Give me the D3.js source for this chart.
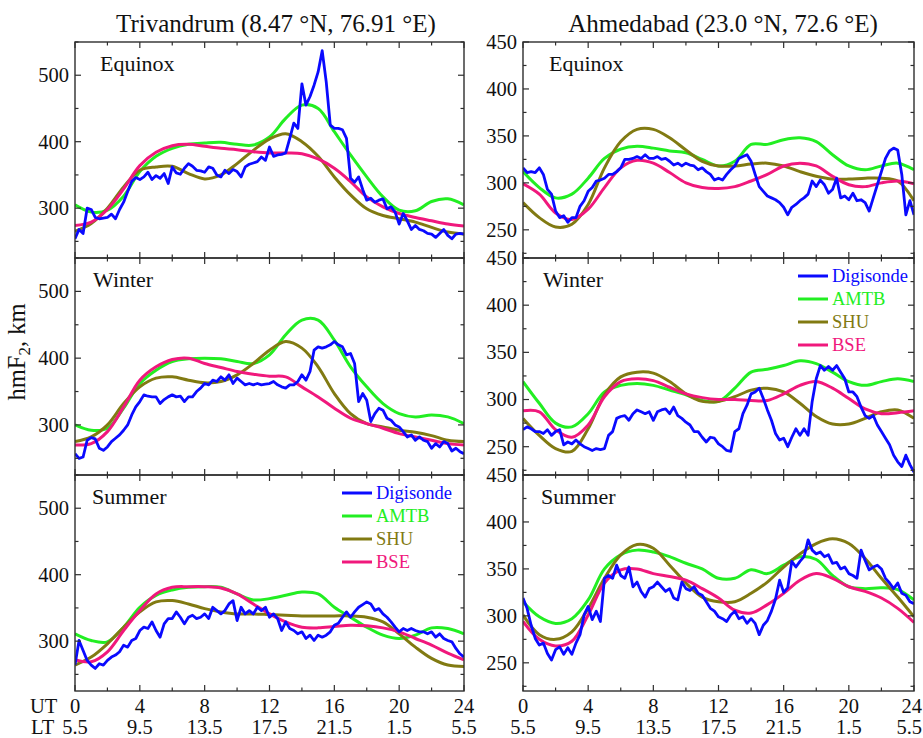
<!DOCTYPE html>
<html>
<head>
<meta charset="utf-8">
<script src="https://cdn.jsdelivr.net/npm/d3@7"></script>
<style>
  body { margin: 0; background: #fff; }
  svg text { font-family: "Liberation Serif", "Times New Roman", serif; fill: #111; }
</style>
</head>
<body>
<svg id="chart" width="923" height="738"></svg>
<script>
// ---- time grids ----
const hours = d3.range(0, 25);                         // hourly model output
const quarterHours = d3.range(0, 97).map(i => i / 4);  // 15-min Digisonde soundings

// ---- axis labels ----
const utTicks = [0, 4, 8, 12, 16, 20, 24];
const ltLabels = ["5.5", "9.5", "13.5", "17.5", "21.5", "1.5", "5.5"];
const seasons = ["Equinox", "Winter", "Summer"];
const stationTitles = ["Trivandrum (8.47 °N, 76.91 °E)", "Ahmedabad (23.0 °N, 72.6 °E)"];
const seriesNames = ["Digisonde", "AMTB", "SHU", "BSE"];
const leftYTicks = [300, 400, 500];
const rightYTicks = [250, 300, 350, 400, 450];

// ---- Trivandrum, Equinox ----
const trvEqDigisonde = [
  254,268,262,300,298,286,284,285,286,291,284,298,
  309,325,340,346,343,347,354,343,349,345,352,337,
  362,353,351,360,367,363,357,356,354,362,360,350,
  347,357,352,358,355,347,362,366,368,370,377,372,
  392,378,380,381,383,405,428,420,487,455,468,485,
  505,537,490,425,420,420,418,405,345,339,347,328,
  312,315,309,312,314,299,302,294,276,292,281,268,
  274,268,266,262,261,256,262,268,259,254,261,262,261];
const trvEqAMTB = [305,294,297,318,355,378,390,396,398,399,396,395,407,435,455,450,415,380,347,317,297,296,310,314,305];
const trvEqSHU  = [265,277,300,332,357,362,363,352,344,350,367,387,404,412,400,378,347,320,299,289,284,279,271,264,261];
const trvEqBSE  = [274,279,298,329,364,384,394,396,393,390,388,385,383,383,382,374,360,340,317,302,292,286,281,276,273];

// ---- Trivandrum, Winter ----
const trvWiDigisonde = [
  257,250,252,277,281,279,265,262,267,275,280,285,
  292,300,315,327,335,345,343,342,342,332,338,342,
  345,342,343,335,342,342,350,355,362,360,367,365,
  372,367,375,362,370,365,360,362,360,362,360,361,
  362,365,360,357,355,360,360,365,375,367,380,412,
  417,415,417,420,425,420,417,405,407,392,335,347,
  337,305,317,325,322,310,307,300,297,290,282,285,
  277,282,277,275,265,272,267,275,272,261,265,260,257];
const trvWiAMTB = [300,292,295,325,362,382,395,399,400,399,395,392,405,435,457,457,427,387,357,332,317,312,315,312,302];
const trvWiSHU  = [275,282,300,332,357,370,372,367,363,365,375,392,412,425,415,387,347,317,302,297,292,289,284,277,275];
const trvWiBSE  = [270,272,290,327,367,387,398,400,392,386,380,376,373,372,357,342,325,310,302,295,287,282,277,272,270];

// ---- Trivandrum, Summer ----
const trvSuDigisonde = [
  264,301,286,271,264,259,266,264,271,276,279,284,
  294,291,301,304,316,321,319,329,316,306,326,334,
  334,344,336,326,336,339,334,336,341,334,351,346,
  341,346,356,361,331,351,341,346,341,351,346,351,
  336,341,334,316,329,319,316,311,314,304,309,301,
  309,306,309,314,324,327,336,344,336,344,351,355,
  359,356,346,349,341,336,329,321,314,319,316,319,
  316,314,314,311,314,306,311,304,301,299,289,281,276];
const trvSuAMTB = [311,301,299,321,351,369,377,381,382,381,371,362,364,369,374,371,351,336,321,309,304,309,320,319,311];
const trvSuSHU  = [264,276,296,321,344,359,361,356,349,344,341,341,340,339,338,338,338,338,336,329,311,291,274,264,262];
const trvSuBSE  = [272,269,284,316,346,371,381,382,382,380,371,356,341,329,321,320,322,324,323,320,314,304,294,282,272];

// ---- Ahmedabad, Equinox ----
const ahmEqDigisonde = [
  316,311,312,311,316,309,293,288,270,263,265,258,
  263,263,275,281,291,295,302,303,305,309,309,312,
  316,325,325,326,328,326,330,326,326,328,325,326,
  323,319,321,318,321,319,318,314,316,312,309,303,
  305,303,309,314,318,326,328,330,323,309,296,291,
  286,284,282,279,274,266,274,277,281,284,288,302,
  296,303,298,289,293,305,284,286,282,289,281,282,
  279,270,284,298,312,326,334,337,335,309,266,281,266];
const ahmEqAMTB = [312,295,284,288,305,326,336,339,337,334,332,325,318,323,341,341,346,348,344,330,318,314,318,321,314];
const ahmEqSHU  = [279,263,253,256,277,316,344,357,357,348,335,323,318,318,320,321,318,312,307,304,304,305,305,302,281];
const ahmEqBSE  = [299,288,268,261,272,295,316,324,321,311,300,295,294,296,302,309,318,321,318,307,298,296,300,302,299];

// ---- Ahmedabad, Winter ----
const ahmWiDigisonde = [
  268,271,269,266,266,264,268,262,266,268,252,255,
  253,257,253,250,248,246,248,247,248,262,266,280,
  282,283,278,285,289,287,285,287,278,287,289,290,
  285,292,283,280,276,273,266,266,260,255,260,259,
  253,250,246,245,266,269,285,294,306,308,312,301,
  289,278,264,257,259,250,260,269,262,269,262,298,
  322,336,331,335,331,336,329,322,308,308,303,292,
  283,280,283,273,266,259,252,241,234,229,241,231,223];
const ahmWiAMTB = [319,296,275,271,285,308,315,317,315,310,305,299,298,312,329,332,336,341,338,329,319,315,319,322,319];
const ahmWiSHU  = [280,262,248,245,269,305,324,329,328,319,306,298,298,303,310,312,308,296,282,274,274,280,287,289,280];
const ahmWiBSE  = [288,287,268,260,273,303,319,322,320,313,306,302,300,300,299,299,306,315,319,312,301,290,285,286,288];

// ---- Ahmedabad, Summer ----
const ahmSuDigisonde = [
  319,308,290,276,269,271,260,253,264,267,259,266,
  259,271,280,301,310,296,305,294,340,343,340,354,
  343,340,352,331,336,326,320,329,331,336,331,326,
  329,319,317,336,329,327,331,324,322,315,308,305,
  299,297,294,301,305,297,299,292,297,292,280,290,
  295,305,318,338,325,330,358,352,358,363,381,370,
  366,368,363,365,356,357,350,352,345,343,340,370,
  359,349,352,354,350,340,335,329,335,324,322,315,313];
const ahmSuAMTB = [315,299,292,297,317,350,365,370,368,363,356,350,340,340,349,345,354,363,360,343,331,329,330,328,317];
const ahmSuSHU  = [301,280,275,283,308,340,365,376,372,354,335,320,315,315,324,336,352,366,377,382,377,361,340,320,299];
const ahmSuBSE  = [294,275,268,273,301,335,349,350,345,342,338,329,319,306,303,312,324,338,345,340,331,326,319,308,293];

// ---- styling ----
const colors = { Digisonde: "#0a0aff", AMTB: "#22ee22", SHU: "#817a12", BSE: "#f0187c" };
const axisColor = "#2e2e2e";

const columns = [
  { x0: 75,  x1: 464, domain: [225, 550], tickStep: 100, minorStep: 50, yTicks: leftYTicks,  titleX: 276 },
  { x0: 523, x1: 914, domain: [220, 450], tickStep: 50,  minorStep: 25, yTicks: rightYTicks, titleX: 723 }
];
const rows = [[42, 258], [258, 475], [475, 691]];

const panels = [
  { col: 0, row: 0, data: [trvEqDigisonde, trvEqAMTB, trvEqSHU, trvEqBSE], labelDx: 25 },
  { col: 0, row: 1, data: [trvWiDigisonde, trvWiAMTB, trvWiSHU, trvWiBSE], labelDx: 18 },
  { col: 0, row: 2, data: [trvSuDigisonde, trvSuAMTB, trvSuSHU, trvSuBSE], labelDx: 17, legend: true },
  { col: 1, row: 0, data: [ahmEqDigisonde, ahmEqAMTB, ahmEqSHU, ahmEqBSE], labelDx: 26 },
  { col: 1, row: 1, data: [ahmWiDigisonde, ahmWiAMTB, ahmWiSHU, ahmWiBSE], labelDx: 20, legend: true },
  { col: 1, row: 2, data: [ahmSuDigisonde, ahmSuAMTB, ahmSuSHU, ahmSuBSE], labelDx: 18 }
];

const svg = d3.select("#chart");
const defs = svg.append("defs");
const pageWidth = 923;

panels.forEach((p, pi) => {
  const c = columns[p.col];
  const [top, bottom] = rows[p.row];
  const x = d3.scaleLinear().domain([0, 24]).range([c.x0, c.x1]);
  const y = d3.scaleLinear().domain(c.domain).range([bottom, top]);
  const g = svg.append("g");

  defs.append("clipPath").attr("id", "clip" + pi)
    .append("rect").attr("x", c.x0).attr("y", top).attr("width", c.x1 - c.x0).attr("height", bottom - top);

  // series: models first, then the Digisonde trace
  const plot = g.append("g").attr("clip-path", `url(#clip${pi})`);
  const modelLine = d3.line().x((d, i) => x(hours[i])).y(d => y(d)).curve(d3.curveCatmullRom.alpha(0.5));
  const digiLine = d3.line().x((d, i) => x(quarterHours[i])).y(d => y(d));
  [1, 2, 3].forEach(k => {
    plot.append("path").datum(p.data[k]).attr("d", modelLine)
      .attr("fill", "none").attr("stroke", colors[seriesNames[k]])
      .attr("stroke-width", 3).attr("stroke-linejoin", "round");
  });
  plot.append("path").datum(p.data[0]).attr("d", digiLine)
    .attr("fill", "none").attr("stroke", colors.Digisonde)
    .attr("stroke-width", 2.8).attr("stroke-linejoin", "round");

  // frame
  g.append("rect").attr("x", c.x0).attr("y", top).attr("width", c.x1 - c.x0).attr("height", bottom - top)
    .attr("fill", "none").attr("stroke", axisColor).attr("stroke-width", 1.4);

  // inward ticks on all four sides
  const tk = g.append("g").attr("stroke", axisColor).attr("stroke-width", 1.2);
  d3.range(0, 25, 2).forEach(h => {
    const len = h % 4 === 0 ? 6 : 3.5;
    tk.append("line").attr("x1", x(h)).attr("x2", x(h)).attr("y1", bottom).attr("y2", bottom - len);
    tk.append("line").attr("x1", x(h)).attr("x2", x(h)).attr("y1", top).attr("y2", top + len);
  });
  const yTickVals = d3.range(Math.ceil(c.domain[0] / c.minorStep) * c.minorStep, c.domain[1] + 0.1, c.minorStep);
  yTickVals.forEach(v => {
    const len = v % c.tickStep === 0 ? 6 : 3.5;
    tk.append("line").attr("x1", c.x0).attr("x2", c.x0 + len).attr("y1", y(v)).attr("y2", y(v));
    tk.append("line").attr("x1", c.x1).attr("x2", c.x1 - len).attr("y1", y(v)).attr("y2", y(v));
  });

  // y tick labels
  g.selectAll(null).data(c.yTicks).enter().append("text")
    .attr("x", c.x0 - 6).attr("y", d => y(d)).attr("dy", "0.34em")
    .attr("text-anchor", "end").attr("font-size", 20.5).text(d => d);

  // season label
  g.append("text").attr("x", c.x0 + p.labelDx).attr("y", top + 29)
    .attr("font-size", 22).text(seasons[p.row]);

  // legend
  if (p.legend) {
    const lx = c.x0 + (p.col === 0 ? 267 : 275);
    const ly = top + 18;
    seriesNames.forEach((name, k) => {
      const yy = ly + k * 23;
      g.append("line").attr("x1", lx).attr("x2", lx + 30).attr("y1", yy).attr("y2", yy)
        .attr("stroke", colors[name]).attr("stroke-width", 3);
      g.append("text").attr("x", lx + 34).attr("y", yy).attr("dy", "0.34em")
        .attr("font-size", 18.5).style("fill", colors[name]).text(name);
    });
  }

  // time axis labels on the bottom row; labels at the page edge are kept inside it
  if (p.row === 2) {
    const place = (sel, i) => {
      const cx = x(utTicks[i]);
      return cx + 12 > pageWidth ? { x: pageWidth - 1, anchor: "end" } : { x: cx, anchor: "middle" };
    };
    g.selectAll(null).data(utTicks).enter().append("text")
      .each(function (d, i) {
        const pos = place(this, i);
        d3.select(this).attr("x", pos.x).attr("text-anchor", pos.anchor);
      })
      .attr("y", 713).attr("font-size", 20.5).text(d => d);
    g.selectAll(null).data(ltLabels).enter().append("text")
      .each(function (d, i) {
        const pos = place(this, i);
        d3.select(this).attr("x", pos.x).attr("text-anchor", pos.anchor);
      })
      .attr("y", 734).attr("font-size", 20.5).text(d => d);
  }
});

// station titles
columns.forEach((c, i) => {
  svg.append("text").attr("x", c.titleX).attr("y", 32).attr("text-anchor", "middle")
    .attr("font-size", 25).text(stationTitles[i]);
});

// UT / LT row names
svg.append("text").attr("x", 30).attr("y", 713).attr("font-size", 20.5).text("UT");
svg.append("text").attr("x", 31).attr("y", 734).attr("font-size", 20.5).text("LT");

// y-axis title
const yTitle = svg.append("text").attr("transform", "translate(25,352) rotate(-90)")
  .attr("text-anchor", "middle").attr("font-size", 24.5);
yTitle.append("tspan").text("hmF");
yTitle.append("tspan").attr("font-size", 17).attr("dy", 5).text("2");
yTitle.append("tspan").attr("dy", -5).text(", km");
</script>
</body>
</html>
